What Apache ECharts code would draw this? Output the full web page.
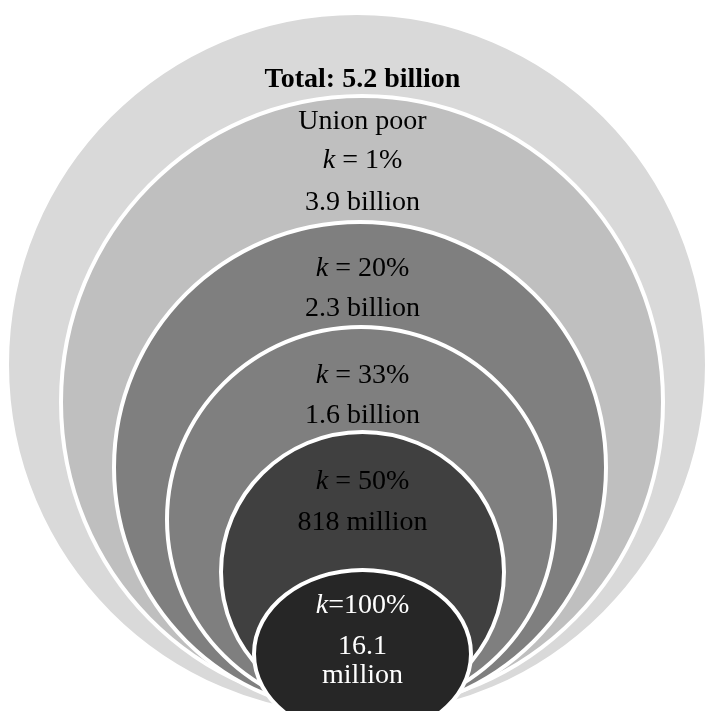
<!DOCTYPE html>
<html><head><meta charset="utf-8">
<script src="https://cdn.jsdelivr.net/npm/echarts@6/dist/echarts.min.js"></script>
<style>html,body{margin:0;padding:0;background:#fff}#c{width:707px;height:711px}</style>
</head><body><div id="c"></div>
<script>
// ---- data ----
const groupNames = ['Total', 'Union poor', 'k = 20%', 'k = 33%', 'k = 50%', 'k = 100%'];
const kPercent = [null, 1, 20, 33, 50, 100];
const populationText = ['5.2 billion', '3.9 billion', '2.3 billion', '1.6 billion', '818 million', '16.1 million'];
const populationBillions = [5.2, 3.9, 2.3, 1.6, 0.818, 0.0161];

// ---- layout of the nested ellipses (diagram units, y grows downward) ----
const ringCenterX   = [357, 362, 360, 361, 362.5, 362.5];
const ringTop       = [13, 96, 222, 327, 432, 570];
const ringBottom    = [716, 708, 713, 712, 712, 738];
const ringHalfWidth = [350, 301, 246, 194, 141.5, 108.5];
const ringColors    = ['#d9d9d9', '#bfbfbf', '#7f7f7f', '#7f7f7f', '#404040', '#262626'];
const textColors    = ['#000', '#000', '#000', '#000', '#000', '#fff'];
const labelX = 362.5;
const labelOffsets = [[67], [26, 65, 107], [47, 87], [48.6, 89], [50, 91], [36, 77, 106]];

function labelLines(i) {
  if (i === 0) return [{ t: 'Total: ' + populationText[0], bold: true }];
  const kTxt = i === 5 ? '{i|k}=' + kPercent[i] + '%' : '{i|k} = ' + kPercent[i] + '%';
  if (i === 1) return [{ t: groupNames[1] }, { t: kTxt }, { t: populationText[1] }];
  if (i === 5) {
    const parts = populationText[5].split(' ');
    return [{ t: kTxt }, { t: parts[0] }, { t: parts[1] }];
  }
  return [{ t: kTxt }, { t: populationText[i] }];
}

const seriesData = ringTop.map((t, i) => [ringCenterX[i], t, ringBottom[i], ringHalfWidth[i], populationBillions[i]]);

const FONT = '"Liberation Serif", "Times New Roman", serif';
const chart = echarts.init(document.getElementById('c'));
chart.setOption({
  animation: false,
  grid: { left: 0, right: 0, top: 0, bottom: 0 },
  xAxis: { type: 'value', min: 0, max: 707, show: false },
  yAxis: { type: 'value', min: 0, max: 711, inverse: true, show: false },
  series: [{
    type: 'custom',
    coordinateSystem: 'cartesian2d',
    data: seriesData,
    encode: { x: 0, y: [1, 2] },
    clip: false,
    renderItem: function (params, api) {
      const i = params.dataIndex;
      const cx = api.value(0), top = api.value(1), bottom = api.value(2), hw = api.value(3);
      const cy = (top + bottom) / 2, hh = (bottom - top) / 2;
      const c = api.coord([cx, cy]);
      const s = api.size([hw, hh]);
      const children = [{
        type: 'ellipse',
        shape: { cx: c[0], cy: c[1], rx: s[0], ry: s[1] },
        style: { fill: ringColors[i], stroke: '#ffffff', lineWidth: 4 }
      }];
      const lines = labelLines(i);
      lines.forEach(function (ln, j) {
        const p = api.coord([labelX, top + labelOffsets[i][j]]);
        children.push({
          type: 'text',
          z2: 10,
          style: {
            text: ln.t,
            x: p[0], y: p[1],
            align: 'center', verticalAlign: 'middle',
            fill: textColors[i],
            fontFamily: FONT,
            fontSize: 28,
            fontWeight: ln.bold ? 'bold' : 'normal',
            rich: { i: { fontStyle: 'italic', fontFamily: FONT, fontSize: 28, fill: textColors[i] } }
          }
        });
      });
      return { type: 'group', children: children };
    }
  }]
});
</script></body></html>
